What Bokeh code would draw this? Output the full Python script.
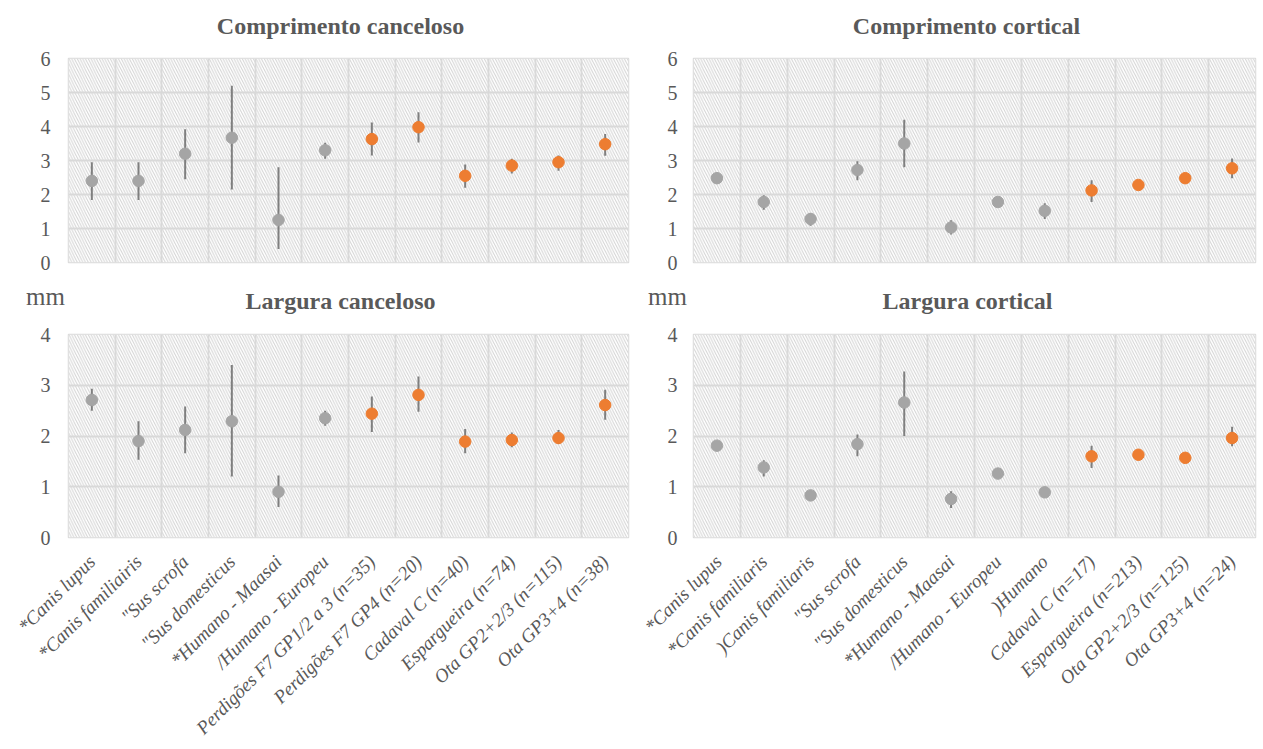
import math
from bokeh.plotting import figure
from bokeh.models import ColumnDataSource, Range1d, FixedTicker, BoxAnnotation
from bokeh.layouts import row, column
from bokeh.transform import factor_cmap
from bokeh.core.properties import value
from bokeh.embed import file_html
from bokeh.resources import INLINE

# ---------------- data ----------------
left_categories = [
    "*Canis lupus", "*Canis familiairis", "\"Sus scrofa", "\"Sus domesticus",
    "*Humano - Maasai", "/Humano - Europeu", "Perdigões F7 GP1/2 a 3 (n=35)",
    "Perdigões F7 GP4 (n=20)", "Cadaval C (n=40)", "Espargueira (n=74)",
    "Ota GP2+2/3 (n=115)", "Ota GP3+4 (n=38)",
]
right_categories = [
    "*Canis lupus", "*Canis familiaris", ")Canis familiaris", "\"Sus scrofa",
    "\"Sus domesticus", "*Humano - Maasai", "/Humano - Europeu", ")Humano",
    "Cadaval C (n=17)", "Espargueira (n=213)", "Ota GP2+2/3 (n=125)", "Ota GP3+4 (n=24)",
]
left_groups = ["referência"] * 6 + ["arqueológico"] * 6
right_groups = ["referência"] * 8 + ["arqueológico"] * 4

# Comprimento canceloso
cc_mean = [2.40, 2.40, 3.20, 3.67, 1.25, 3.30, 3.63, 3.98, 2.55, 2.85, 2.95, 3.48]
cc_low  = [1.84, 1.84, 2.45, 2.15, 0.40, 3.05, 3.15, 3.53, 2.20, 2.62, 2.70, 3.14]
cc_high = [2.95, 2.95, 3.92, 5.20, 2.80, 3.52, 4.12, 4.42, 2.88, 3.05, 3.15, 3.78]

# Comprimento cortical
co_mean = [2.48, 1.78, 1.28, 2.72, 3.50, 1.03, 1.78, 1.52, 2.12, 2.28, 2.48, 2.77]
co_low  = [2.43, 1.55, 1.08, 2.42, 2.80, 0.82, 1.73, 1.28, 1.78, 2.23, 2.43, 2.48]
co_high = [2.53, 1.98, 1.44, 2.98, 4.20, 1.24, 1.83, 1.74, 2.42, 2.33, 2.53, 3.06]

# Largura canceloso
lc_mean = [2.71, 1.90, 2.12, 2.29, 0.90, 2.35, 2.44, 2.81, 1.89, 1.92, 1.96, 2.61]
lc_low  = [2.50, 1.53, 1.66, 1.20, 0.60, 2.20, 2.08, 2.48, 1.66, 1.78, 1.84, 2.32]
lc_high = [2.93, 2.29, 2.58, 3.40, 1.22, 2.50, 2.78, 3.17, 2.14, 2.07, 2.12, 2.91]

# Largura cortical
lo_mean = [1.81, 1.38, 0.83, 1.84, 2.66, 0.76, 1.26, 0.89, 1.60, 1.63, 1.57, 1.96]
lo_low  = [1.74, 1.20, 0.79, 1.60, 2.00, 0.58, 1.22, 0.82, 1.37, 1.59, 1.53, 1.80]
lo_high = [1.89, 1.52, 0.87, 2.03, 3.27, 0.91, 1.30, 0.96, 1.81, 1.67, 1.61, 2.18]

top_ticks = [0, 1, 2, 3, 4, 5, 6]
bottom_ticks = [0, 1, 2, 3, 4]
unit_label = "mm"
titles = ["Comprimento canceloso", "Comprimento cortical",
          "Largura canceloso", "Largura cortical"]

# ---------------- style ----------------
SERIF = "Liberation Serif"
TXT = "#595959"
GRID = "#d9d9d9"
GRAY = "#a5a5a5"
ORANGE = "#ed7d31"
BAR = "#7f7f7f"


def make_fig(cats, mean, low, high, groups, yticks, width, height,
             bl, br, bt, bb, show_x, ylab_standoff):
    n = len(cats)
    p = figure(width=width, height=height,
               x_range=Range1d(-0.5, n - 0.5), y_range=Range1d(yticks[0], yticks[-1]),
               output_backend="svg", toolbar_location=None,
               min_border_left=bl, min_border_right=br,
               min_border_top=bt, min_border_bottom=bb)
    p.background_fill_color = "white"
    p.border_fill_color = "white"
    p.outline_line_color = GRID
    p.outline_line_width = 1.5

    hatch = BoxAnnotation(fill_color="white", fill_alpha=1.0, line_color=None,
                          hatch_pattern="\\", hatch_color="#d2d2d2", hatch_alpha=1.0,
                          hatch_scale=5.5, hatch_weight=1.0, level="image")
    p.add_layout(hatch)

    p.xgrid.ticker = FixedTicker(ticks=[i + 0.5 for i in range(n - 1)])
    p.xgrid.grid_line_color = GRID
    p.xgrid.grid_line_width = 1.8
    p.ygrid.ticker = FixedTicker(ticks=yticks)
    p.ygrid.grid_line_color = GRID
    p.ygrid.grid_line_width = 1.8

    p.yaxis.ticker = FixedTicker(ticks=yticks)
    p.xaxis.ticker = FixedTicker(ticks=list(range(n)))
    p.xaxis.major_label_overrides = {i: c for i, c in enumerate(cats)}
    for ax in p.axis:
        ax.axis_line_color = None
        ax.major_tick_line_color = None
        ax.minor_tick_line_color = None
        ax.major_label_text_font = SERIF
        ax.major_label_text_color = TXT
    p.yaxis.major_label_text_font_size = "20px"
    p.yaxis.major_label_standoff = ylab_standoff
    p.xaxis.major_label_text_font_size = "19px"
    p.xaxis.major_label_text_font_style = "italic"
    p.xaxis.major_label_orientation = math.pi / 4
    p.xaxis.major_label_standoff = 15
    if not show_x:
        p.xaxis.visible = False

    src = ColumnDataSource(dict(x=list(range(n)), mean=mean, low=low, high=high,
                                group=groups))
    p.segment(x0="x", y0="low", x1="x", y1="high", source=src,
              line_color=BAR, line_width=2)
    cmap = factor_cmap("group", [GRAY, ORANGE], ["referência", "arqueológico"])
    p.scatter(x="x", y="mean", source=src, size=11.5, marker="circle",
              fill_color=cmap, line_color=cmap)
    return p


def make_strip(width, height, title, title_x, title_from_top, unit=None, unit_x=0):
    # header strip holding a chart's title (and the "mm" unit text)
    s = figure(width=width, height=height, x_range=Range1d(0, width),
               y_range=Range1d(0, height), x_axis_type=None, y_axis_type=None,
               output_backend="svg", toolbar_location=None, min_border=0)
    s.grid.visible = False
    s.outline_line_color = None
    s.background_fill_color = "white"
    s.border_fill_color = "white"
    s.text(x=[title_x], y=[height - title_from_top], text=[title], text_font=value(SERIF),
           text_font_style="bold", text_font_size="24px", text_color=TXT,
           text_align="center", text_baseline="middle")
    if unit is not None:
        s.text(x=[unit_x], y=[height - title_from_top + 4], text=[unit],
               text_font=value(SERIF), text_font_size="25px", text_color=TXT,
               text_align="center", text_baseline="middle")
    return s


st_l = make_strip(640, 46, titles[0], 340, 25)
st_r = make_strip(622, 46, titles[1], 326, 25)
tl = make_fig(left_categories, cc_mean, cc_low, cc_high,
              left_groups, top_ticks, 640, 226, 68, 12, 12, 10, False, 12)
tr = make_fig(right_categories, co_mean, co_low, co_high,
              right_groups, top_ticks, 622, 226, 53, 7, 12, 10, False, 10)
sb_l = make_strip(640, 50, titles[2], 340, 28, unit_label, 45)
sb_r = make_strip(622, 50, titles[3], 327, 28, unit_label, 27)
bl = make_fig(left_categories, lc_mean, lc_low, lc_high,
              left_groups, bottom_ticks, 640, 426, 68, 12, 12, 211, True, 12)
br = make_fig(right_categories, lo_mean, lo_low, lo_high,
              right_groups, bottom_ticks, 622, 426, 53, 7, 12, 211, True, 10)

layout = column(row(st_l, st_r), row(tl, tr), row(sb_l, sb_r), row(bl, br))

open("out.html", "w").write(file_html(layout, INLINE))
